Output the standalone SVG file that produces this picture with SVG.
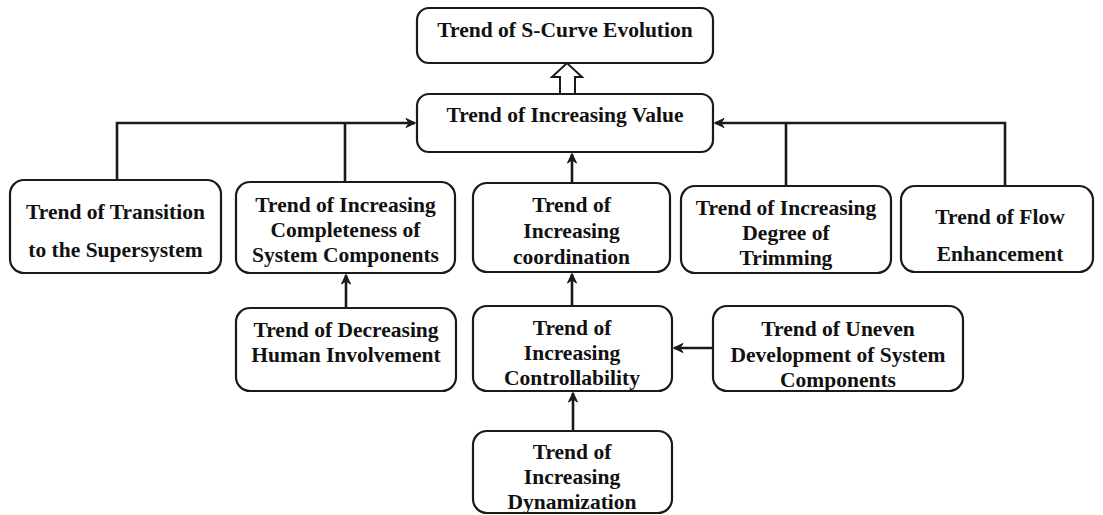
<svg xmlns="http://www.w3.org/2000/svg" width="1103" height="515" viewBox="0 0 1103 515">
<defs>
<style>
.box{fill:#fff;stroke:#1a1a1a;stroke-width:2.2}
.t{font-family:"Liberation Serif","Times New Roman",serif;font-weight:bold;font-size:21.5px;fill:#111;text-anchor:middle}
.c{fill:none;stroke:#1a1a1a;stroke-width:2.6}
</style>
<marker id="ah" markerUnits="userSpaceOnUse" markerWidth="12" markerHeight="12" viewBox="0 0 12 12" refX="10" refY="6" orient="auto">
<path d="M1,1.5 L10.5,6 L1,10.5 L4,6 z" fill="#1a1a1a" stroke="#1a1a1a" stroke-width="1" stroke-linejoin="miter"/>
</marker>
</defs>
<rect width="1103" height="515" fill="#fff"/>
<g id="connectors">
<path class="c" d="M117,181 V123 H415" marker-end="url(#ah)"/>
<path class="c" d="M345,182 V123"/>
<path class="c" d="M1005,186 V123 H715" marker-end="url(#ah)"/>
<path class="c" d="M786,186 V123"/>
<path class="c" d="M572,183 V154" marker-end="url(#ah)"/>
<path class="c" d="M572,306 V274" marker-end="url(#ah)"/>
<path class="c" d="M573,431 V393" marker-end="url(#ah)"/>
<path class="c" d="M713,348 H674" marker-end="url(#ah)"/>
<path class="c" d="M346,308 V275" marker-end="url(#ah)"/>
<polygon points="560,94 560,77 552,77 567,63 582,77 575,77 575,94" fill="#fff" stroke="#1a1a1a" stroke-width="2"/>
</g>
<g id="n-scurve">
<rect class="box" x="417" y="8" width="296" height="55" rx="12"/>
<text class="t" x="565" y="37">Trend of S-Curve Evolution</text>
</g>
<g id="n-value">
<rect class="box" x="417" y="94" width="296" height="58" rx="12"/>
<text class="t" x="565" y="122">Trend of Increasing Value</text>
</g>
<g id="n-transition">
<rect class="box" x="10" y="180" width="211" height="93" rx="14"/>
<text class="t" x="115.5" y="219">Trend of Transition</text>
<text class="t" x="115.5" y="257">to the Supersystem</text>
</g>
<g id="n-completeness">
<rect class="box" x="236" y="182" width="219" height="91" rx="14"/>
<text class="t" x="345.5" y="212">Trend of Increasing</text>
<text class="t" x="345.5" y="237">Completeness of</text>
<text class="t" x="345.5" y="262">System Components</text>
</g>
<g id="n-coordination">
<rect class="box" x="473" y="183" width="197" height="89" rx="14"/>
<text class="t" x="571.5" y="212">Trend of</text>
<text class="t" x="571.5" y="238">Increasing</text>
<text class="t" x="571.5" y="264">coordination</text>
</g>
<g id="n-trimming">
<rect class="box" x="681" y="186" width="210" height="87" rx="14"/>
<text class="t" x="786" y="215">Trend of Increasing</text>
<text class="t" x="786" y="240">Degree of</text>
<text class="t" x="786" y="265">Trimming</text>
</g>
<g id="n-flow">
<rect class="box" x="901" y="186" width="192" height="86" rx="14"/>
<text class="t" x="1000" y="224">Trend of Flow</text>
<text class="t" x="1000" y="261">Enhancement</text>
</g>
<g id="n-decreasing">
<rect class="box" x="236" y="308" width="220" height="83" rx="14"/>
<text class="t" x="346" y="337">Trend of Decreasing</text>
<text class="t" x="346" y="362">Human Involvement</text>
</g>
<g id="n-controllability">
<rect class="box" x="473" y="306" width="199" height="85" rx="14"/>
<text class="t" x="572" y="335">Trend of</text>
<text class="t" x="572" y="360">Increasing</text>
<text class="t" x="572" y="385">Controllability</text>
</g>
<g id="n-uneven">
<rect class="box" x="713" y="306" width="250" height="85" rx="14"/>
<text class="t" x="838" y="336">Trend of Uneven</text>
<text class="t" x="838" y="362">Development of System</text>
<text class="t" x="838" y="387">Components</text>
</g>
<g id="n-dynamization">
<rect class="box" x="473" y="431" width="199" height="82" rx="14"/>
<text class="t" x="572" y="459">Trend of</text>
<text class="t" x="572" y="484">Increasing</text>
<text class="t" x="572" y="509">Dynamization</text>
</g>
</svg>
